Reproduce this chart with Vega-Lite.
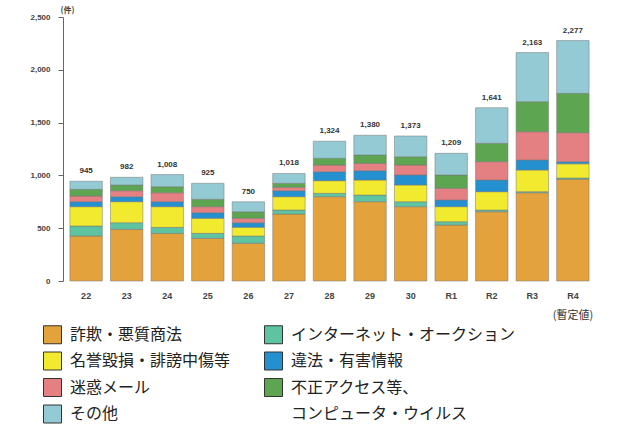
{
  "$schema": "https://vega.github.io/schema/vega-lite/v6.json",
  "width": 533,
  "height": 264,
  "autosize": "none",
  "padding": {"left": 63, "top": 17, "right": 33, "bottom": 144},
  "background": "white",
  "config": {
    "view": {"stroke": null},
    "font": "Noto Sans CJK JP"
  },
  "datasets": {
    "cats": [
      {"category": "詐欺・悪質商法", "rank": 1},
      {"category": "インターネット・オークション", "rank": 2},
      {"category": "名誉毀損・誹謗中傷等", "rank": 3},
      {"category": "違法・有害情報", "rank": 4},
      {"category": "迷惑メール", "rank": 5},
      {"category": "不正アクセス等、", "rank": 6},
      {"category": "その他", "rank": 7}
    ],
    "main": [
      {"year": "22", "category": "詐欺・悪質商法", "value": 426},
      {"year": "22", "category": "インターネット・オークション", "value": 95},
      {"year": "22", "category": "名誉毀損・誹謗中傷等", "value": 183},
      {"year": "22", "category": "違法・有害情報", "value": 47},
      {"year": "22", "category": "迷惑メール", "value": 54},
      {"year": "22", "category": "不正アクセス等、", "value": 63},
      {"year": "22", "category": "その他", "value": 77},
      {"year": "23", "category": "詐欺・悪質商法", "value": 489},
      {"year": "23", "category": "インターネット・オークション", "value": 63},
      {"year": "23", "category": "名誉毀損・誹謗中傷等", "value": 199},
      {"year": "23", "category": "違法・有害情報", "value": 47},
      {"year": "23", "category": "迷惑メール", "value": 57},
      {"year": "23", "category": "不正アクセス等、", "value": 54},
      {"year": "23", "category": "その他", "value": 73},
      {"year": "24", "category": "詐欺・悪質商法", "value": 451},
      {"year": "24", "category": "インターネット・オークション", "value": 57},
      {"year": "24", "category": "名誉毀損・誹謗中傷等", "value": 196},
      {"year": "24", "category": "違法・有害情報", "value": 47},
      {"year": "24", "category": "迷惑メール", "value": 85},
      {"year": "24", "category": "不正アクセス等、", "value": 57},
      {"year": "24", "category": "その他", "value": 115},
      {"year": "25", "category": "詐欺・悪質商法", "value": 404},
      {"year": "25", "category": "インターネット・オークション", "value": 47},
      {"year": "25", "category": "名誉毀損・誹謗中傷等", "value": 143},
      {"year": "25", "category": "違法・有害情報", "value": 53},
      {"year": "25", "category": "迷惑メール", "value": 57},
      {"year": "25", "category": "不正アクセス等、", "value": 70},
      {"year": "25", "category": "その他", "value": 151},
      {"year": "26", "category": "詐欺・悪質商法", "value": 357},
      {"year": "26", "category": "インターネット・オークション", "value": 69},
      {"year": "26", "category": "名誉毀損・誹謗中傷等", "value": 82},
      {"year": "26", "category": "違法・有害情報", "value": 44},
      {"year": "26", "category": "迷惑メール", "value": 42},
      {"year": "26", "category": "不正アクセス等、", "value": 62},
      {"year": "26", "category": "その他", "value": 94},
      {"year": "27", "category": "詐欺・悪質商法", "value": 634},
      {"year": "27", "category": "インターネット・オークション", "value": 38},
      {"year": "27", "category": "名誉毀損・誹謗中傷等", "value": 126},
      {"year": "27", "category": "違法・有害情報", "value": 57},
      {"year": "27", "category": "迷惑メール", "value": 32},
      {"year": "27", "category": "不正アクセス等、", "value": 38},
      {"year": "27", "category": "その他", "value": 93},
      {"year": "28", "category": "詐欺・悪質商法", "value": 798},
      {"year": "28", "category": "インターネット・オークション", "value": 32},
      {"year": "28", "category": "名誉毀損・誹謗中傷等", "value": 120},
      {"year": "28", "category": "違法・有害情報", "value": 85},
      {"year": "28", "category": "迷惑メール", "value": 63},
      {"year": "28", "category": "不正アクセス等、", "value": 64},
      {"year": "28", "category": "その他", "value": 162},
      {"year": "29", "category": "詐欺・悪質商法", "value": 751},
      {"year": "29", "category": "インターネット・オークション", "value": 63},
      {"year": "29", "category": "名誉毀損・誹謗中傷等", "value": 142},
      {"year": "29", "category": "違法・有害情報", "value": 89},
      {"year": "29", "category": "迷惑メール", "value": 69},
      {"year": "29", "category": "不正アクセス等、", "value": 79},
      {"year": "29", "category": "その他", "value": 187},
      {"year": "30", "category": "詐欺・悪質商法", "value": 704},
      {"year": "30", "category": "インターネット・オークション", "value": 47},
      {"year": "30", "category": "名誉毀損・誹謗中傷等", "value": 158},
      {"year": "30", "category": "違法・有害情報", "value": 95},
      {"year": "30", "category": "迷惑メール", "value": 94},
      {"year": "30", "category": "不正アクセス等、", "value": 79},
      {"year": "30", "category": "その他", "value": 196},
      {"year": "R1", "category": "詐欺・悪質商法", "value": 530},
      {"year": "R1", "category": "インターネット・オークション", "value": 32},
      {"year": "R1", "category": "名誉毀損・誹謗中傷等", "value": 142},
      {"year": "R1", "category": "違法・有害情報", "value": 63},
      {"year": "R1", "category": "迷惑メール", "value": 111},
      {"year": "R1", "category": "不正アクセス等、", "value": 126},
      {"year": "R1", "category": "その他", "value": 205},
      {"year": "R2", "category": "詐欺・悪質商法", "value": 656},
      {"year": "R2", "category": "インターネット・オークション", "value": 16},
      {"year": "R2", "category": "名誉毀損・誹謗中傷等", "value": 174},
      {"year": "R2", "category": "違法・有害情報", "value": 110},
      {"year": "R2", "category": "迷惑メール", "value": 174},
      {"year": "R2", "category": "不正アクセス等、", "value": 174},
      {"year": "R2", "category": "その他", "value": 337},
      {"year": "R3", "category": "詐欺・悪質商法", "value": 836},
      {"year": "R3", "category": "インターネット・オークション", "value": 10},
      {"year": "R3", "category": "名誉毀損・誹謗中傷等", "value": 205},
      {"year": "R3", "category": "違法・有害情報", "value": 95},
      {"year": "R3", "category": "迷惑メール", "value": 268},
      {"year": "R3", "category": "不正アクセス等、", "value": 284},
      {"year": "R3", "category": "その他", "value": 465},
      {"year": "R4", "category": "詐欺・悪質商法", "value": 963},
      {"year": "R4", "category": "インターネット・オークション", "value": 12},
      {"year": "R4", "category": "名誉毀損・誹謗中傷等", "value": 135},
      {"year": "R4", "category": "違法・有害情報", "value": 20},
      {"year": "R4", "category": "迷惑メール", "value": 274},
      {"year": "R4", "category": "不正アクセス等、", "value": 373},
      {"year": "R4", "category": "その他", "value": 500}
    ],
    "note": [{"year": "R4", "note": "(暫定値)"}]
  },
  "encoding": {
    "x": {
      "field": "year",
      "type": "ordinal",
      "sort": null,
      "scale": {"paddingInner": 0.2, "paddingOuter": 0.17},
      "axis": {
        "title": null,
        "labelAngle": 0,
        "domain": false,
        "ticks": false,
        "labelFontSize": 9,
        "labelFontWeight": "bold",
        "labelColor": "#444",
        "labelPadding": 10,
        "labelFont": "Liberation Sans"
      }
    }
  },
  "layer": [
    {
      "data": {"name": "main"},
      "transform": [
        {"lookup": "category", "from": {"data": {"name": "cats"}, "key": "category", "fields": ["rank"]}}
      ],
      "mark": {"type": "bar", "stroke": "#777", "strokeWidth": 0.5},
      "encoding": {
        "y": {
          "field": "value",
          "type": "quantitative",
          "stack": "zero",
          "scale": {"domain": [0, 2500], "nice": false},
          "axis": {
            "title": "(件)",
            "titleAngle": 0,
            "titleX": -3,
            "titleY": -7,
            "titleAlign": "left",
            "titleBaseline": "middle",
            "titleFontSize": 8,
            "titleFontWeight": "bold",
            "titleColor": "#444",
            "values": [0, 500, 1000, 1500, 2000, 2500],
            "format": ",d",
            "grid": false,
            "domainColor": "#666",
            "tickColor": "#666",
            "tickSize": 5,
            "labelPadding": 8,
            "labelFontSize": 8,
            "labelFontWeight": "bold",
            "labelColor": "#444",
            "labelFont": "Liberation Sans"
          }
        },
        "order": {"field": "rank", "type": "quantitative", "sort": "ascending"},
        "color": {
          "field": "category",
          "type": "nominal",
          "scale": {
            "domain": ["詐欺・悪質商法", "インターネット・オークション", "名誉毀損・誹謗中傷等", "違法・有害情報", "迷惑メール", "不正アクセス等、", "その他", "コンピュータ・ウイルス"],
            "range": ["#E3A23C", "#5EC3A0", "#F2EA2E", "#2590D0", "#E47F82", "#5DA550", "#93CAD3", "rgba(0,0,0,0)"]
          },
          "legend": {
            "title": null,
            "orient": "none",
            "legendX": -20,
            "legendY": 308,
            "columns": 2,
            "direction": "horizontal",
            "symbolType": "square",
            "symbolSize": 324,
            "symbolStrokeColor": "#333",
            "symbolStrokeWidth": 1,
            "symbolOpacity": 1,
            "labelFont": "Noto Sans CJK JP",
            "labelFontSize": 16,
            "labelColor": "#222",
            "labelOffset": 8,
            "labelLimit": 400,
            "rowPadding": 3.5,
            "columnPadding": 31,
            "encoding": {
              "symbols": {
                "strokeOpacity": {
                  "condition": {"test": "datum.value === 'コンピュータ・ウイルス'", "value": 0},
                  "value": 1
                }
              }
            }
          }
        }
      }
    },
    {
      "data": {"name": "main"},
      "mark": {"type": "text", "dy": -10, "fontSize": 8, "fontWeight": "bold", "color": "#333", "font": "Liberation Sans"},
      "encoding": {
        "y": {"aggregate": "sum", "field": "value", "type": "quantitative"},
        "text": {"aggregate": "sum", "field": "value", "type": "quantitative", "format": ","}
      }
    },
    {
      "data": {"name": "note"},
      "mark": {"type": "text", "dy": 35, "fontSize": 11, "color": "#333", "font": "Noto Sans CJK JP"},
      "encoding": {
        "y": {"datum": 0, "type": "quantitative"},
        "text": {"field": "note"}
      }
    }
  ]
}
